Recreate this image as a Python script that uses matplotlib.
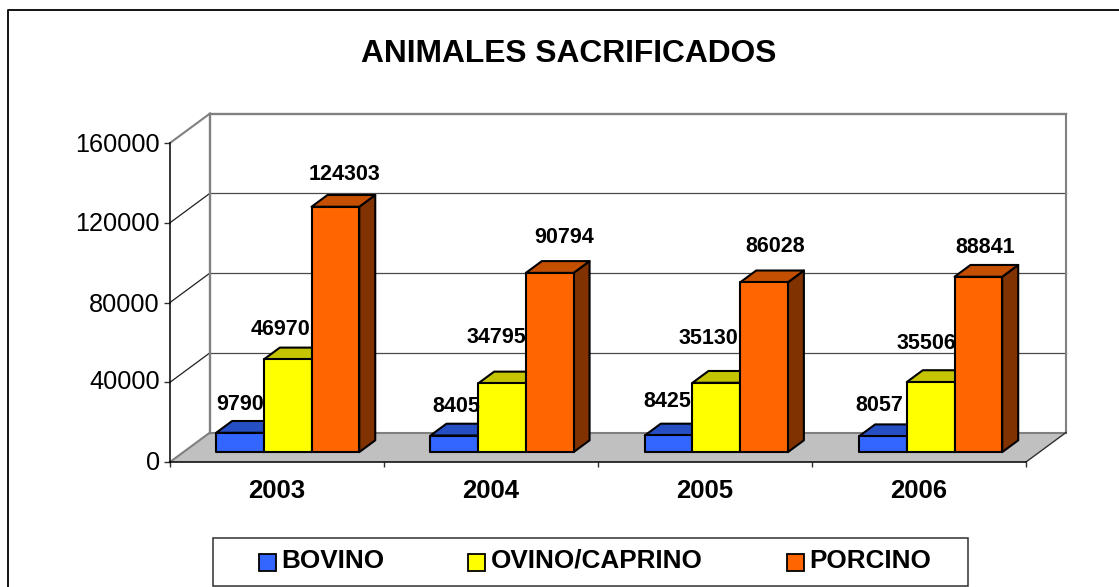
import matplotlib
matplotlib.use("Agg")
import matplotlib.pyplot as plt
from matplotlib.patches import Polygon, Rectangle, Patch
from matplotlib.lines import Line2D
from matplotlib.transforms import Affine2D
from matplotlib.colors import to_rgb

# ---- data ----
years = ["2003", "2004", "2005", "2006"]
bovino = [9790, 8405, 8425, 8057]
ovino_caprino = [46970, 34795, 35130, 35506]
porcino = [124303, 90794, 86028, 88841]
series_names = ["BOVINO", "OVINO/CAPRINO", "PORCINO"]
y_ticks = [0, 40000, 80000, 120000, 160000]

# ---- style / layout ----
W, H = 1119, 587
plt.rcParams["font.family"] = ["Liberation Sans", "DejaVu Sans"]
series_values = [bovino, ovino_caprino, porcino]
colors = ["#3366FF", "#FFFF00", "#FF6600"]
label_nudge = [
    [(0, 28), (2, 29), (-1, 34), (-4, 31)],
    [(-7, 29.5), (-6, 46), (-8, 44), (-4, 39)],
    [(9, 32.6), (14, 35), (11, 36), (7, 29)],
]
ytick_nudge = [2, 3, 0, 1, 0]             # pixels upward, per tick label
L, R, B, T = 170, 1026, 462, 143          # front plane in pixels
DX_PX, DY_PX = 40, 29.5                   # full chart depth in pixels
BAR_D0, BAR_D1 = 0.335, 0.735             # bar front/back depth
BAR_W = 47.7 / ((R - L) / 4)
BAR_START = 0.153
GROUP_STEP = 1.0015
FORESHORTEN = 0.99                        # slight perspective of the bars

fig = plt.figure(figsize=(W / 100, H / 100), dpi=100, facecolor="white")
ax = fig.add_axes([L / W, (H - B) / H, (R - L) / W, (B - T) / H])
ax.set_xlim(0, len(years))
ax.set_ylim(0, y_ticks[-1])
ax.patch.set_visible(False)

px = Affine2D().scale(1, -1).translate(0, H)   # figure pixels, y down
dx_unit = DX_PX / ((R - L) / len(years))
dy_unit = DY_PX / ((B - T) / y_ticks[-1])


def proj(x, v, d):
    """Oblique projection of category x, value v, depth d (0 front..1 back)."""
    return (x + d * dx_unit, v + d * dy_unit)


def shade(c, f):
    return tuple(f * k for k in to_rgb(c))


def line(p, q, color, lw, z=1):
    ax.plot([p[0], q[0]], [p[1], q[1]], color=color, lw=lw, zorder=z,
            clip_on=False, solid_capstyle="projecting")


n = len(years)
top = y_ticks[-1]
# floor
ax.add_patch(Polygon([proj(0, 0, 0), proj(n, 0, 0), proj(n, 0, 1), proj(0, 0, 1)],
                     closed=True, fc="#C0C0C0", ec="none", zorder=1, clip_on=False))
# grid on back wall and left wall
for v in y_ticks[1:-1]:
    line(proj(0, v, 1), proj(n, v, 1), "#4A4A4A", 0.9)
for v in y_ticks[:-1]:
    line(proj(0, v, 0), proj(0, v, 1), "#808080" if v == 0 else "#202020", 1.5 if v == 0 else 0.9)
# wall outlines
gray = "#808080"
line(proj(0, top, 0), proj(0, top, 1), gray, 1.5, 2)
line(proj(0, 0, 1), proj(0, top, 1), gray, 1.7, 2)
line(proj(0, top, 1), proj(n, top, 1), gray, 1.7, 2)
line(proj(n, top, 1), proj(n, 0, 1), gray, 1.5, 2)
line(proj(0, 0, 1), proj(n, 0, 1), gray, 1.5, 2)
line(proj(n, 0, 0), proj(n, 0, 1), "#303030", 1.0, 2)

# bars
z = 3
for s, (vals, col) in enumerate(zip(series_values, colors)):
    for i, val in enumerate(vals):
        v = val * FORESHORTEN
        x0 = i * GROUP_STEP + BAR_START + s * BAR_W
        x1 = x0 + BAR_W
        style = dict(closed=True, ec="black", lw=1.5, joinstyle="round", clip_on=False)
        ax.add_patch(Polygon([proj(x1, 0, BAR_D0), proj(x1, 0, BAR_D1),
                              proj(x1, v, BAR_D1), proj(x1, v, BAR_D0)],
                             fc=shade(col, 0.5), zorder=z, **style))
        ax.add_patch(Polygon([proj(x0, v, BAR_D0), proj(x1, v, BAR_D0),
                              proj(x1, v, BAR_D1), proj(x0, v, BAR_D1)],
                             fc=shade(col, 0.77), zorder=z, **style))
        ax.add_patch(Polygon([proj(x0, 0, BAR_D0), proj(x1, 0, BAR_D0),
                              proj(x1, v, BAR_D0), proj(x0, v, BAR_D0)],
                             fc=col, zorder=z, **style))
    z += 1

# value labels
for s, vals in enumerate(series_values):
    for i, val in enumerate(vals):
        xc = i * GROUP_STEP + BAR_START + (s + 0.5) * BAR_W
        ax.annotate(str(val), proj(xc, val * FORESHORTEN, BAR_D0),
                    xytext=label_nudge[s][i], textcoords="offset pixels",
                    ha="center", va="center", fontsize=15.5, fontweight="bold",
                    color="black", zorder=10, annotation_clip=False)

# axes
for side in ("top", "right"):
    ax.spines[side].set_visible(False)
for side in ("left", "bottom"):
    ax.spines[side].set_linewidth(1.1)
    ax.spines[side].set_color("black")
    ax.spines[side].set_zorder(9)
ax.set_yticks(y_ticks)
ax.set_yticklabels([str(v) for v in y_ticks])
ax.tick_params(axis="y", labelsize=18.2, length=4.3, width=1.0, pad=3, color="#303030")
for lab, up in zip(ax.get_yticklabels(), ytick_nudge):
    lab.set_transform(lab.get_transform() + Affine2D().translate(0, up))
ax.set_xticks(range(n + 1))
ax.set_xticklabels([])
ax.tick_params(axis="x", which="major", length=3.6, width=1.0, color="#303030")
ax.set_xticks([i + 0.5 for i in range(n)], labels=years, minor=True)
ax.tick_params(axis="x", which="minor", length=0, labelsize=18.5, pad=12)
for t in ax.get_xticklabels(minor=True):
    t.set_fontweight("bold")

# title
fig.text(568.5 / W, 1 - 54 / H, "ANIMALES SACRIFICADOS", ha="center", va="center",
         fontsize=22.9, fontweight="bold", color="black")

# chart outer border (top and left only, rest is cropped)
fig.add_artist(Line2D([7.5, 7.5, W], [H, 10, 10], transform=px, color="black", lw=1.3))

# legend frame and legend
fig.add_artist(Rectangle((213, 538), 755, 48, transform=px, fc="white", ec="#303030", lw=1.1))
handles = [Patch(fc=c, ec="black", lw=1.3) for c in colors]
leg = fig.legend(handles, series_names, ncol=3, loc="center",
                 bbox_to_anchor=(595 / W, 1 - 561 / H), frameon=False,
                 prop={"size": 18.8, "weight": "bold"},
                 handlelength=0.65, handleheight=0.65, handletextpad=0.23,
                 columnspacing=3.2, labelspacing=0)
for h in leg.legend_handles:
    h.set_y(h.get_y() - 2.5)

fig.savefig("out.png", dpi=100, facecolor="white")
